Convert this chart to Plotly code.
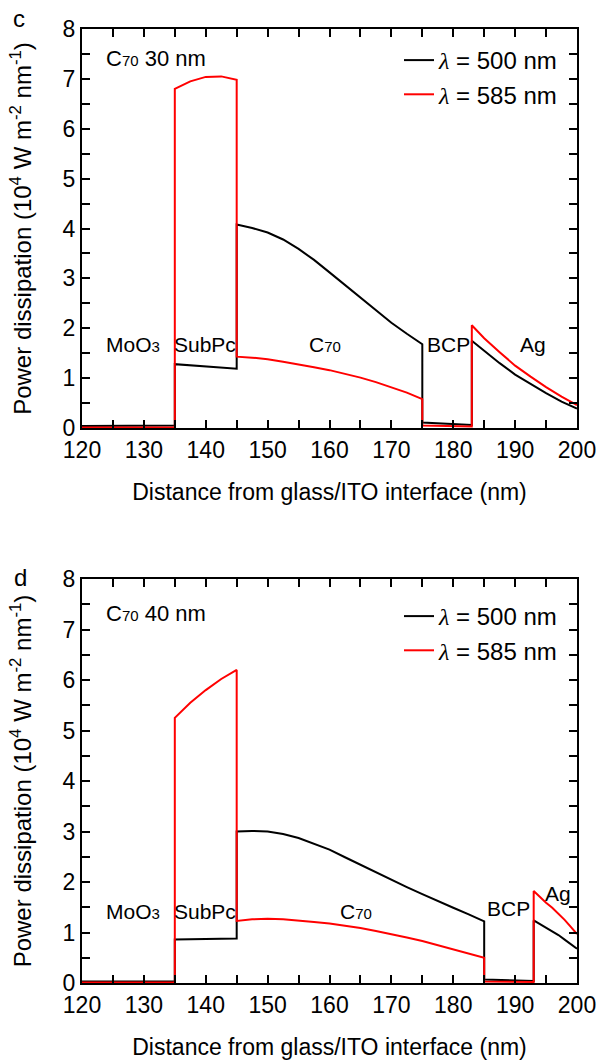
import plotly.graph_objects as go

# ---------------- data ----------------
# Panel c : C70 30 nm
c_moo3_x = [120, 127.5, 135]
c_moo3_500 = [0.04, 0.05, 0.05]
c_moo3_585 = [0.01, 0.01, 0.01]
c_subpc_x = [135, 137.5, 140, 142.5, 145]
c_subpc_500 = [1.28, 1.26, 1.24, 1.22, 1.19]
c_subpc_585 = [6.80, 6.95, 7.04, 7.05, 6.98]
c_c70_x = [145, 147.5, 150, 152.5, 155, 157.5, 160, 162.5, 165, 167.5, 170, 172.5, 175]
c_c70_500 = [4.08, 4.01, 3.92, 3.78, 3.59, 3.37, 3.12, 2.87, 2.62, 2.36, 2.11, 1.89, 1.68]
c_c70_585 = [1.43, 1.41, 1.38, 1.33, 1.28, 1.22, 1.16, 1.09, 1.01, 0.92, 0.82, 0.71, 0.58]
c_bcp_x = [175, 179, 183]
c_bcp_500 = [0.11, 0.08, 0.06]
c_bcp_585 = [0.05, 0.04, 0.03]
c_ag_x = [183, 185, 187.5, 190, 192.5, 195, 197.5, 200]
c_ag_500 = [1.75, 1.55, 1.30, 1.07, 0.88, 0.70, 0.53, 0.39]
c_ag_585 = [2.06, 1.80, 1.52, 1.25, 1.03, 0.82, 0.63, 0.46]

# Panel d : C70 40 nm
d_moo3_x = [120, 127.5, 135]
d_moo3_500 = [0.03, 0.03, 0.03]
d_moo3_585 = [0.01, 0.01, 0.01]
d_subpc_x = [135, 137.5, 140, 142.5, 145]
d_subpc_500 = [0.86, 0.865, 0.87, 0.875, 0.88]
d_subpc_585 = [5.25, 5.55, 5.80, 6.02, 6.20]
d_c70_x = [145, 147.5, 150, 152.5, 155, 157.5, 160, 162.5, 165, 167.5, 170,
           172.5, 175, 177.5, 180, 182.5, 185]
d_c70_500 = [3.00, 3.01, 3.00, 2.95, 2.87, 2.76, 2.64, 2.49, 2.34, 2.19, 2.04,
             1.90, 1.76, 1.62, 1.49, 1.36, 1.22]
d_c70_585 = [1.23, 1.26, 1.27, 1.26, 1.24, 1.21, 1.18, 1.14, 1.09, 1.03, 0.97,
             0.90, 0.83, 0.75, 0.67, 0.58, 0.50]
d_bcp_x = [185, 189, 193]
d_bcp_500 = [0.07, 0.055, 0.04]
d_bcp_585 = [0.03, 0.025, 0.02]
d_ag_x = [193, 194, 195, 196, 197, 198, 199, 200]
d_ag_500 = [1.24, 1.17, 1.10, 1.03, 0.95, 0.86, 0.77, 0.68]
d_ag_585 = [1.82, 1.70, 1.59, 1.49, 1.38, 1.25, 1.11, 0.97]

layers = ["MoO<span style='font-size:15px'>3</span>", "SubPc",
          "C<span style='font-size:15px'>70</span>", "BCP", "Ag"]
c_label_x = [123.6, 134.6, 156.3, 175.5, 190.5]   # left edges
c_label_y = [1.67, 1.67, 1.67, 1.67, 1.67]
d_label_x = [123.6, 134.6, 161.4, 185.2, 194.5]
d_label_y = [1.42, 1.42, 1.42, 1.48, 1.77]
series_names = ["<span style='font-family:Liberation Serif'><i>λ</i></span> = 500 nm",
                "<span style='font-family:Liberation Serif'><i>λ</i></span> = 585 nm"]
series_colors = ["#000000", "#ff0000"]
x_ticks = [120, 130, 140, 150, 160, 170, 180, 190, 200]
y_ticks = [0, 1, 2, 3, 4, 5, 6, 7, 8]

def join(*parts):
    out = []
    for p in parts:
        out += list(p)
    return out

c_x = join(c_moo3_x, c_subpc_x, c_c70_x, c_bcp_x, c_ag_x)
c_500 = join(c_moo3_500, c_subpc_500, c_c70_500, c_bcp_500, c_ag_500)
c_585 = join(c_moo3_585, c_subpc_585, c_c70_585, c_bcp_585, c_ag_585)
d_x = join(d_moo3_x, d_subpc_x, d_c70_x, d_bcp_x, d_ag_x)
d_500 = join(d_moo3_500, d_subpc_500, d_c70_500, d_bcp_500, d_ag_500)
d_585 = join(d_moo3_585, d_subpc_585, d_c70_585, d_bcp_585, d_ag_585)

FONT = "Liberation Sans, Arial, sans-serif"
W, H = 600, 1061
ML, MR, MT, MB = 82, 23, 0, 78
PW, PH = W - ML - MR, H - MT - MB

def py(p):   # pixel row -> paper y
    return 1 - (p - MT) / PH

def pxx(p):  # pixel column -> paper x
    return (p - ML) / PW

fig = go.Figure()
for xs, ys_list, xa, ya, lg in [(c_x, [c_500, c_585], "x", "y", "legend"),
                                (d_x, [d_500, d_585], "x2", "y2", "legend2")]:
    for name, col, ys in zip(series_names, series_colors, ys_list):
        fig.add_trace(go.Scatter(x=xs, y=ys, mode="lines", name=name,
                                 line=dict(color=col, width=2),
                                 xaxis=xa, yaxis=ya, legend=lg))

ytitle = "Power dissipation (10<sup>4</sup> W m<sup>-2</sup> nm<sup>-1</sup>)"
axis_common = dict(showline=True, linecolor="black", linewidth=2, mirror="allticks",
                   ticks="inside", ticklen=8, tickwidth=1.5, tickcolor="black",
                   showgrid=False, zeroline=False, automargin=False,
                   tickfont=dict(family=FONT, size=23, color="black"))
minor_common = dict(ticks="inside", ticklen=8, tickwidth=1.5, tickcolor="black", showgrid=False)

xa = dict(axis_common, range=[120, 200], tickvals=x_ticks,
          minor=dict(minor_common, dtick=5),
          title=dict(text="Distance from glass/ITO interface (nm)",
                     font=dict(family=FONT, size=23, color="black"), standoff=22))
ya = dict(axis_common, range=[0, 8], tickvals=y_ticks,
          minor=dict(minor_common, dtick=0.5),
          title=dict(text=ytitle, font=dict(family=FONT, size=24, color="black"), standoff=24))

fig.update_layout(
    width=W, height=H,
    margin=dict(l=ML, r=MR, t=MT, b=MB, autoexpand=False),
    paper_bgcolor="white", plot_bgcolor="white",
    font=dict(family=FONT, size=20, color="black"),
    xaxis=dict(xa, domain=[0, 1], anchor="y"),
    yaxis=dict(ya, domain=[py(428), py(29)], anchor="x"),
    xaxis2=dict(xa, domain=[0, 1], anchor="y2"),
    yaxis2=dict(ya, domain=[py(983), py(579)], anchor="x2"),
    legend=dict(x=pxx(563), xanchor="right", y=py(38), yanchor="top",
                bgcolor="rgba(0,0,0,0)", font=dict(family=FONT, size=24, color="black"),
                itemwidth=30, tracegroupgap=0),
    legend2=dict(x=pxx(563), xanchor="right", y=py(594), yanchor="top",
                 bgcolor="rgba(0,0,0,0)", font=dict(family=FONT, size=24, color="black"),
                 itemwidth=30, tracegroupgap=0),
    showlegend=True,
)

ann = []
for txt, lx, ly in zip(layers, c_label_x, c_label_y):
    ann.append(dict(x=lx, y=ly, xref="x", yref="y", text=txt, showarrow=False,
                    xanchor="left", yanchor="middle",
                    font=dict(family=FONT, size=21, color="black")))
for txt, lx, ly in zip(layers, d_label_x, d_label_y):
    ann.append(dict(x=lx, y=ly, xref="x2", yref="y2", text=txt, showarrow=False,
                    xanchor="left", yanchor="middle",
                    font=dict(family=FONT, size=21, color="black")))
ann.append(dict(x=pxx(104), y=(428 - 58) / 399, xref="paper", yref="y domain",
                xanchor="left", yanchor="middle",
                text="C<span style='font-size:15px'>70</span> 30 nm", showarrow=False,
                font=dict(family=FONT, size=22, color="black")))
ann.append(dict(x=pxx(104), y=(983 - 613) / 404, xref="paper", yref="y2 domain",
                xanchor="left", yanchor="middle",
                text="C<span style='font-size:15px'>70</span> 40 nm", showarrow=False,
                font=dict(family=FONT, size=22, color="black")))
ann.append(dict(x=pxx(19), y=py(19), xref="paper", yref="paper", text="c",
                xanchor="center", yanchor="middle",
                showarrow=False, font=dict(family=FONT, size=24, color="black")))
ann.append(dict(x=pxx(20), y=py(577), xref="paper", yref="paper", text="d",
                xanchor="center", yanchor="middle",
                showarrow=False, font=dict(family=FONT, size=24, color="black")))
fig.update_layout(annotations=ann)

fig.write_html("out.html")
